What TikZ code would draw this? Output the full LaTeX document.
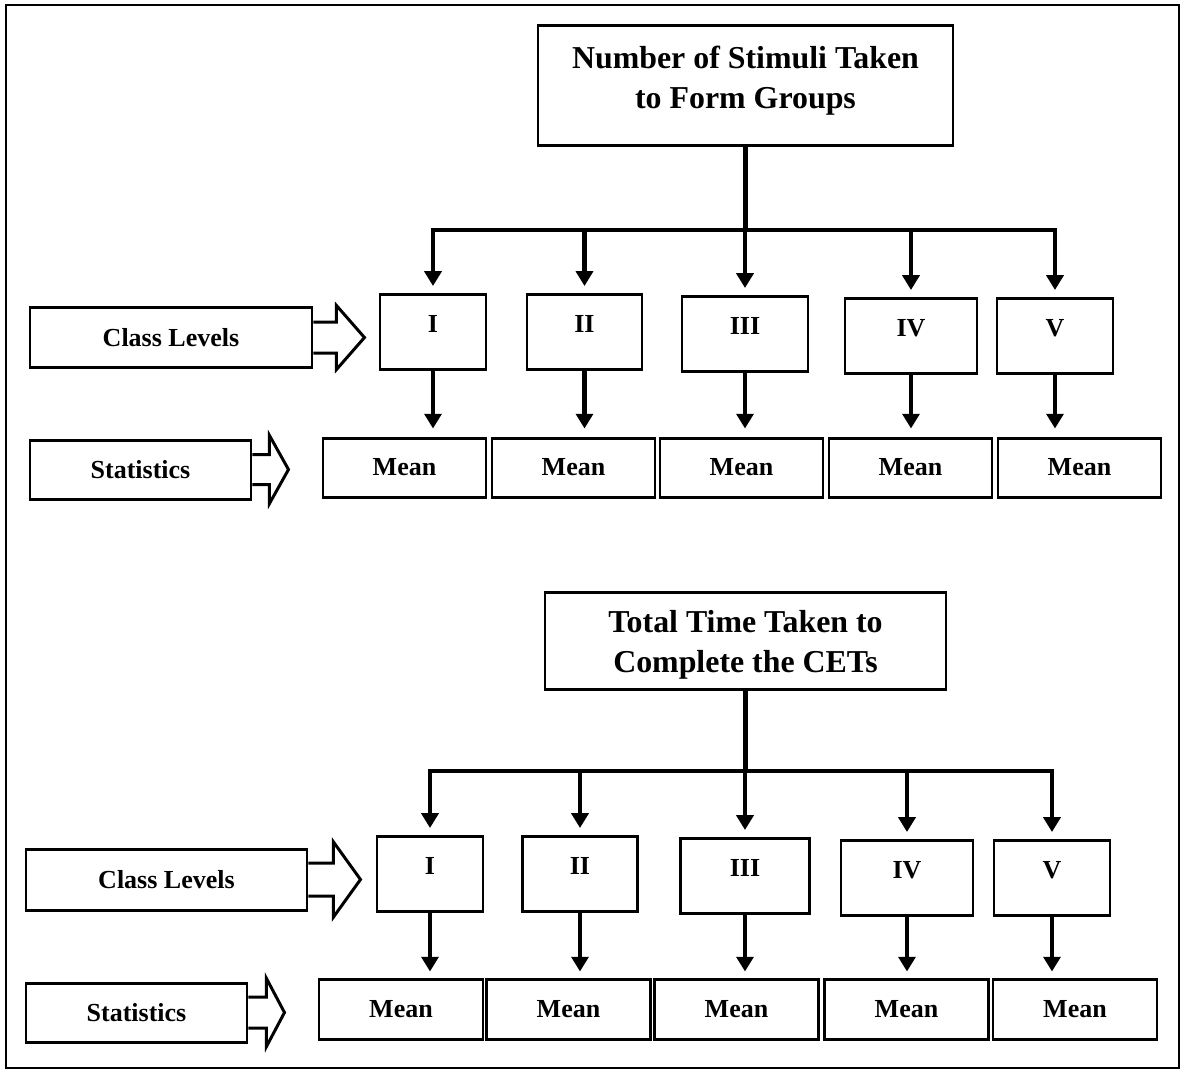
\documentclass[tikz,border=0pt]{standalone}
\usepackage{fontspec}
\setmainfont{Liberation Serif}
\usetikzlibrary{arrows.meta}
\tikzset{
	box/.style={draw, line width=0.85pt, inner sep=0pt, font=\fontsize{7.4}{9}\selectfont\bfseries},
	levelbox/.style={box, anchor=north, text height=3.75mm, text depth=3.75mm},
	meanbox/.style={box, minimum width=16.3mm, minimum height=5.9mm},
	sidebox/.style={box, minimum height=6mm},
	headbox/.style={draw, line width=0.85pt, inner sep=0pt},
	headtext/.style={align=center, inner sep=0pt, font=\fontsize{9.07}{11.4}\selectfont\bfseries},
	link/.style={line width=1.35pt},
	arr/.style={link, -{Triangle[width=4.8pt,length=4.2pt]}},
	hollow/.style={line width=0.85pt, line join=miter}
}
\newcommand{\hollowarrow}[5]{%
	\begin{scope}[shift={(#1.east)}]
		\draw[hollow] (0,-#2) -- (#3,-#2) -- (#3,-#4) -- (#3+#5,0) -- (#3,#4) -- (#3,#2) -- (0,#2);
	\end{scope}}
\begin{document}
\begin{tikzpicture}[x=0.1mm, y=-0.1mm, line cap=butt]
	\useasboundingbox (0,0) rectangle (1184,1072);
	\draw[line width=0.75pt] (6,5) rectangle (1179,1068);
	% number of stimuli
	\node[headbox, minimum width=41.5mm, minimum height=12mm] (atitle) at (745.5,85) {};
	\node[headtext] (atitletext) at (745.5,81) {Number of Stimuli Taken\\to Form Groups};
	\foreach \i/\lab/\x/\w/\t in {1/I/433/10.6/293, 2/II/584.5/11.5/293, 3/III/745/12.6/295, 4/IV/911/13.2/297, 5/V/1055/11.6/297}
		\node[levelbox, minimum width=\w mm] (a\i) at (\x,\t) {\lab};
	\foreach \i/\x in {1/404.5, 2/573.5, 3/741.5, 4/910.5, 5/1079.5}
		\node[meanbox] (am\i) at (\x,467.5) {Mean};
	\node[sidebox, minimum width=28.2mm] (acl) at (171,337.5) {Class Levels};
	\node[sidebox, minimum width=22.1mm, minimum height=5.9mm] (ast) at (140.5,469.5) {Statistics};
	\coordinate (abar) at (0,230);
	\draw[link] (atitle.south) -- (atitle.south |- abar);
	\draw[link, line cap=rect] (a1.north |- abar) -- (a5.north |- abar);
	\foreach \i in {1,...,5} {
		\draw[arr, shorten >=0.7mm] (a\i.north |- abar) -- (a\i.north);
		\draw[arr, shorten >=0.8mm] (a\i.south) -- (a\i.south |- am\i.north);
	}
	\hollowarrow{acl}{15.5}{23}{32}{28}
	\hollowarrow{ast}{15}{17}{34}{19}
	% total time
	\node[headbox, minimum width=40.1mm, minimum height=9.7mm] (btitle) at (745.5,641) {};
	\node[headtext] (btitletext) at (745.5,645) {Total Time Taken to\\Complete the CETs};
	\foreach \i/\lab/\x/\w/\t in {1/I/430/10.6/835, 2/II/580/11.5/835, 3/III/745/12.9/837, 4/IV/907/13.2/839, 5/V/1052/11.6/839}
		\node[levelbox, minimum width=\w mm] (b\i) at (\x,\t) {\lab};
	\foreach \i/\x in {1/401, 2/568.5, 3/736.5, 4/906.5, 5/1075}
		\node[meanbox, minimum width=16.4mm, minimum height=6mm] (bm\i) at (\x,1009) {Mean};
	\node[sidebox, minimum width=28.1mm, minimum height=6.1mm] (bcl) at (166.5,879.5) {Class Levels};
	\node[sidebox, minimum width=22.1mm, minimum height=5.9mm] (bst) at (136.5,1012.5) {Statistics};
	\coordinate (bbar) at (0,771);
	\draw[link] (btitle.south) -- (btitle.south |- bbar);
	\draw[link, line cap=rect] (b1.north |- bbar) -- (b5.north |- bbar);
	\foreach \i in {1,...,5} {
		\draw[arr, shorten >=0.7mm] (b\i.north |- bbar) -- (b\i.north);
		\draw[arr, shorten >=0.6mm] (b\i.south) -- (b\i.south |- bm\i.north);
	}
	\hollowarrow{bcl}{16.5}{25}{37.5}{27}
	\hollowarrow{bst}{15.5}{18}{34}{18}
\end{tikzpicture}
\end{document}
